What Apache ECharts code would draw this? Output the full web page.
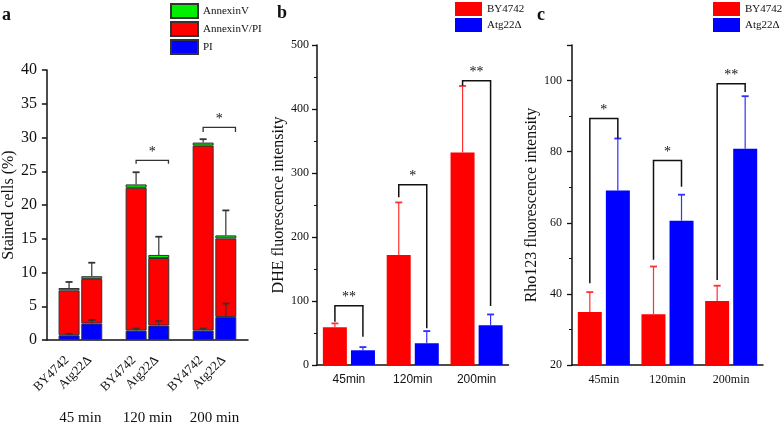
<!DOCTYPE html>
<html>
<head>
<meta charset="utf-8">
<script src="https://cdn.jsdelivr.net/npm/echarts@6/dist/echarts.min.js"></script>
<style>html,body{margin:0;padding:0;background:#fff}#c{width:784px;height:426px}</style>
</head>
<body>
<div id="c"></div>
<script>
// ---------- data ----------
const groupsA = ['45 min', '120 min', '200 min'];
const groupsBC = ['45min', '120min', '200min'];
const strains = ['BY4742', 'Atg22Δ'];
const stainNames = ['AnnexinV', 'AnnexinV/PI', 'PI'];

// panel a (stained cells %)
const piBY = [0.7, 1.4, 1.4];
const apBY = [6.65, 21.15, 27.4];
const avBY = [0.35, 0.5, 0.45];
const piBYErr = [0.2, 0.3, 0.3];
const totBYErr = [0.9, 1.8, 0.5];
const piAtg = [2.45, 2.15, 3.4];
const apAtg = [6.6, 10.0, 11.65];
const avAtg = [0.4, 0.45, 0.45];
const piAtgErr = [0.5, 0.65, 2.0];
const totAtgErr = [2.0, 2.7, 3.7];
const sigACat = [1, 2];
const sigATop = [26.6, 31.5];
const sigALeft = [26.1, 30.8];
const sigARight = [26.1, 30.8];
const sigAMark = ['*', '*'];

// panel b (DHE)
const dheBY = [59, 172, 332];
const dheBYErr = [6, 82, 104];
const dheAtg = [23, 34, 62];
const dheAtgErr = [5, 19, 17];
const sigBCat = [0, 1, 2];
const sigBTop = [92.7, 281.7, 444.2];
const sigBLeft = [67.7, 262, 436.4];
const sigBRight = [44.2, 57.3, 92.2];
const sigBMark = ['**', '*', '**'];

// panel c (Rho123)
const rhoBY = [34.9, 34.3, 38.0];
const rhoBYErr = [5.6, 13.4, 4.3];
const rhoAtg = [69.1, 60.6, 80.8];
const rhoAtgErr = [14.6, 7.3, 14.8];
const sigCCat = [0, 1, 2];
const sigCTop = [89.3, 77.5, 99.1];
const sigCLeft = [43.0, 49.6, 43.9];
const sigCRight = [83.7, 70.1, 96.8];
const sigCMark = ['*', '*', '**'];

// ---------- styling ----------
const SERIF = '"Liberation Serif", "DejaVu Serif", serif';
const SANS = '"Liberation Sans", Arial, sans-serif';
const RED = '#ff0000', BLUE = '#0000ff', GREEN = '#00ee00';
const AX = '#111';

function errRender(offset, color, capW) {
  return function (params, api) {
    const c = api.value(0), v = api.value(1), e = api.value(2);
    const p0 = api.coord([c, v]);
    const p1 = api.coord([c, v + e]);
    const x = p0[0] + offset;
    return {
      type: 'group',
      children: [
        { type: 'line', shape: { x1: x, y1: p0[1], x2: x, y2: p1[1] }, style: { stroke: color, lineWidth: 1.2 } },
        { type: 'line', shape: { x1: x - capW / 2, y1: p1[1], x2: x + capW / 2, y2: p1[1] }, style: { stroke: color, lineWidth: 1.8 } }
      ]
    };
  };
}
function sigRender(offL, offR, marks, color, lw, fs) {
  return function (params, api) {
    const c = api.value(0);
    const pt = api.coord([c, api.value(1)]);
    const pl = api.coord([c, api.value(2)]);
    const pr = api.coord([c, api.value(3)]);
    const xl = pt[0] + offL, xr = pt[0] + offR;
    return {
      type: 'group',
      children: [
        { type: 'polyline', shape: { points: [[xl, pl[1]], [xl, pt[1]], [xr, pt[1]], [xr, pr[1]]] },
          style: { stroke: color, lineWidth: lw, fill: null } },
        { type: 'text', x: (xl + xr) / 2, y: pt[1] - 1,
          style: { text: marks[params.dataIndex], font: fs + 'px ' + SERIF, fill: '#111', align: 'center', verticalAlign: 'bottom' } }
      ]
    };
  };
}

const grids = [
  { left: 43, top: 70, width: 205, height: 272 },
  { left: 317, top: 45, width: 191.5, height: 320 },
  { left: 572, top: 45, width: 191, height: 320 }
];

const six = ['a', 'b', 'c', 'd', 'e', 'f'];
const xAxes = [
  { gridIndex: 0, type: 'category', data: groupsA, position: 'bottom',
    axisLine: { lineStyle: { color: AX, width: 1.5 } },
    axisTick: { length: 6, lineStyle: { color: AX, width: 1.5 } },
    axisLabel: { margin: 71, fontFamily: SERIF, fontSize: 15, color: '#111' } },
  { gridIndex: 1, type: 'category', data: groupsBC, position: 'bottom',
    axisLine: { lineStyle: { color: AX, width: 1.5 } },
    axisTick: { show: false },
    axisLabel: { margin: 9, fontFamily: SANS, fontSize: 12, color: '#111' } },
  { gridIndex: 2, type: 'category', data: groupsBC, position: 'bottom',
    axisLine: { lineStyle: { color: AX, width: 1.5 } },
    axisTick: { show: false },
    axisLabel: { margin: 9, fontFamily: SERIF, fontSize: 12, color: '#111' } },
  { gridIndex: 1, type: 'category', data: six, position: 'bottom',
    axisLine: { show: false }, axisLabel: { show: false },
    axisTick: { length: 4, lineStyle: { color: AX, width: 1.3 } } },
  { gridIndex: 2, type: 'category', data: six, position: 'bottom',
    axisLine: { show: false }, axisLabel: { show: false },
    axisTick: { length: 4, lineStyle: { color: AX, width: 1.3 } } }
];

const yAxes = [
  { gridIndex: 0, type: 'value', min: 0, max: 40, interval: 5,
    name: 'Stained cells (%)', nameLocation: 'middle', nameGap: 28,
    nameTextStyle: { fontFamily: SERIF, fontSize: 16, color: '#111' },
    axisLine: { show: true, lineStyle: { color: AX, width: 1.5 } },
    axisTick: { show: true, length: 5, lineStyle: { color: AX, width: 1.5 } },
    axisLabel: { margin: 10, fontFamily: SERIF, fontSize: 16, color: '#111' },
    splitLine: { show: false } },
  { gridIndex: 1, type: 'value', min: 0, max: 500, interval: 100,
    name: 'DHE fluorescence intensity', nameLocation: 'middle', nameGap: 30,
    nameTextStyle: { fontFamily: SERIF, fontSize: 16, color: '#111' },
    axisLine: { show: true, lineStyle: { color: AX, width: 1.5 } },
    axisTick: { show: true, length: 5, lineStyle: { color: AX, width: 1.3 } },
    minorTick: { show: true, splitNumber: 2, length: 3, lineStyle: { color: AX, width: 1 } },
    axisLabel: { margin: 8, fontFamily: SERIF, fontSize: 12, color: '#111' },
    splitLine: { show: false } },
  { gridIndex: 2, type: 'value', min: 20, max: 110, interval: 20,
    name: 'Rho123 fluorescence intensity', nameLocation: 'middle', nameGap: 25,
    nameTextStyle: { fontFamily: SERIF, fontSize: 16, color: '#111' },
    axisLine: { show: true, lineStyle: { color: AX, width: 1.5 } },
    axisTick: { show: true, length: 5, lineStyle: { color: AX, width: 1.3 } },
    minorTick: { show: true, splitNumber: 2, length: 3, lineStyle: { color: AX, width: 1 } },
    axisLabel: { margin: 10, fontFamily: SERIF, fontSize: 12, color: '#111', showMaxLabel: false },
    splitLine: { show: false } }
];

const barA = { type: 'bar', xAxisIndex: 0, yAxisIndex: 0, barWidth: 21, barGap: '8%',
  itemStyle: { borderColor: '#333', borderWidth: 1 } };
function strainLabel(name) {
  return { show: true, position: 'bottom', distance: 16, rotate: 45, align: 'right', verticalAlign: 'middle',
    offset: [-3, 0], fontFamily: SERIF, fontSize: 13, color: '#111', formatter: () => name };
}

const series = [
  Object.assign({}, barA, { name: 'PI', stack: 'by', data: piBY, color: BLUE, label: strainLabel(strains[0]) }),
  Object.assign({}, barA, { name: 'AnnexinV/PI', stack: 'by', data: apBY, color: RED }),
  Object.assign({}, barA, { name: 'AnnexinV', stack: 'by', data: avBY, color: GREEN }),
  Object.assign({}, barA, { name: 'PI', stack: 'atg', data: piAtg, color: BLUE, label: strainLabel(strains[1]) }),
  Object.assign({}, barA, { name: 'AnnexinV/PI', stack: 'atg', data: apAtg, color: RED }),
  Object.assign({}, barA, { name: 'AnnexinV', stack: 'atg', data: avAtg, color: GREEN }),
  { type: 'custom', xAxisIndex: 0, yAxisIndex: 0, z: 5, clip: false, encode: { x: 0, y: 1 },
    renderItem: errRender(-11.35, '#333', 7),
    data: groupsA.map((g, i) => [i, piBY[i] + apBY[i] + avBY[i], totBYErr[i]]) },
  { type: 'custom', xAxisIndex: 0, yAxisIndex: 0, z: 5, clip: false, encode: { x: 0, y: 1 },
    renderItem: errRender(11.35, '#333', 7),
    data: groupsA.map((g, i) => [i, piAtg[i] + apAtg[i] + avAtg[i], totAtgErr[i]]) },
  { type: 'custom', xAxisIndex: 0, yAxisIndex: 0, z: 5, clip: false, encode: { x: 0, y: 1 },
    renderItem: errRender(-11.35, '#333', 7),
    data: groupsA.map((g, i) => [i, piBY[i], piBYErr[i]]) },
  { type: 'custom', xAxisIndex: 0, yAxisIndex: 0, z: 5, clip: false, encode: { x: 0, y: 1 },
    renderItem: errRender(11.35, '#333', 7),
    data: groupsA.map((g, i) => [i, piAtg[i], piAtgErr[i]]) },
  { type: 'custom', xAxisIndex: 0, yAxisIndex: 0, z: 5, clip: false, encode: { x: 0, y: 1 },
    renderItem: sigRender(-11.35, 21, sigAMark, '#333', 1.3, 14),
    data: sigACat.map((c, i) => [c, sigATop[i], sigALeft[i], sigARight[i]]) },

  // panel b
  { type: 'bar', name: strains[0], xAxisIndex: 1, yAxisIndex: 1, data: dheBY, color: RED, barWidth: 24, barGap: '17%' },
  { type: 'bar', name: strains[1], xAxisIndex: 1, yAxisIndex: 1, data: dheAtg, color: BLUE, barWidth: 24, barGap: '17%' },
  { type: 'custom', xAxisIndex: 1, yAxisIndex: 1, z: 5, clip: false, encode: { x: 0, y: 1 },
    renderItem: errRender(-14, '#ff3030', 7),
    data: groupsBC.map((g, i) => [i, dheBY[i], dheBYErr[i]]) },
  { type: 'custom', xAxisIndex: 1, yAxisIndex: 1, z: 5, clip: false, encode: { x: 0, y: 1 },
    renderItem: errRender(14, '#3030ff', 7),
    data: groupsBC.map((g, i) => [i, dheAtg[i], dheAtgErr[i]]) },
  { type: 'custom', xAxisIndex: 1, yAxisIndex: 1, z: 5, clip: false, encode: { x: 0, y: 1 },
    renderItem: sigRender(-14, 14, sigBMark, '#111', 1.5, 14),
    data: sigBCat.map((c, i) => [c, sigBTop[i], sigBLeft[i], sigBRight[i]]) },

  // panel c
  { type: 'bar', name: strains[0], xAxisIndex: 2, yAxisIndex: 2, data: rhoBY, color: RED, barWidth: 24, barGap: '17%' },
  { type: 'bar', name: strains[1], xAxisIndex: 2, yAxisIndex: 2, data: rhoAtg, color: BLUE, barWidth: 24, barGap: '17%' },
  { type: 'custom', xAxisIndex: 2, yAxisIndex: 2, z: 5, clip: false, encode: { x: 0, y: 1 },
    renderItem: errRender(-14, '#ff3030', 7),
    data: groupsBC.map((g, i) => [i, rhoBY[i], rhoBYErr[i]]) },
  { type: 'custom', xAxisIndex: 2, yAxisIndex: 2, z: 5, clip: false, encode: { x: 0, y: 1 },
    renderItem: errRender(14, '#3030ff', 7),
    data: groupsBC.map((g, i) => [i, rhoAtg[i], rhoAtgErr[i]]) },
  { type: 'custom', xAxisIndex: 2, yAxisIndex: 2, z: 5, clip: false, encode: { x: 0, y: 1 },
    renderItem: sigRender(-14, 14, sigCMark, '#111', 1.5, 14),
    data: sigCCat.map((c, i) => [c, sigCTop[i], sigCLeft[i], sigCRight[i]]) }
];

const legendBase = { orient: 'vertical', icon: 'rect', itemWidth: 27, itemHeight: 14, itemGap: 2, padding: 0,
  selectedMode: false, textStyle: { fontFamily: SERIF, fontSize: 11, color: '#111' } };

const option = {
  animation: false,
  backgroundColor: '#fff',
  grid: grids,
  xAxis: xAxes,
  yAxis: yAxes,
  legend: [
    Object.assign({}, legendBase, { data: stainNames, left: 170, top: 3 }),
    Object.assign({}, legendBase, { data: strains, left: 455, top: 2 }),
    Object.assign({}, legendBase, { data: strains, left: 713, top: 2 })
  ],
  graphic: [
    { type: 'text', left: 2, top: 6, style: { text: 'a', font: 'bold 18px ' + SERIF, fill: '#111' } },
    { type: 'text', left: 277, top: 4, style: { text: 'b', font: 'bold 18px ' + SERIF, fill: '#111' } },
    { type: 'text', left: 537, top: 6, style: { text: 'c', font: 'bold 18px ' + SERIF, fill: '#111' } }
  ],
  series: series
};

const chart = echarts.init(document.getElementById('c'), null, { renderer: 'canvas' });
chart.setOption(option);
</script>
</body>
</html>
